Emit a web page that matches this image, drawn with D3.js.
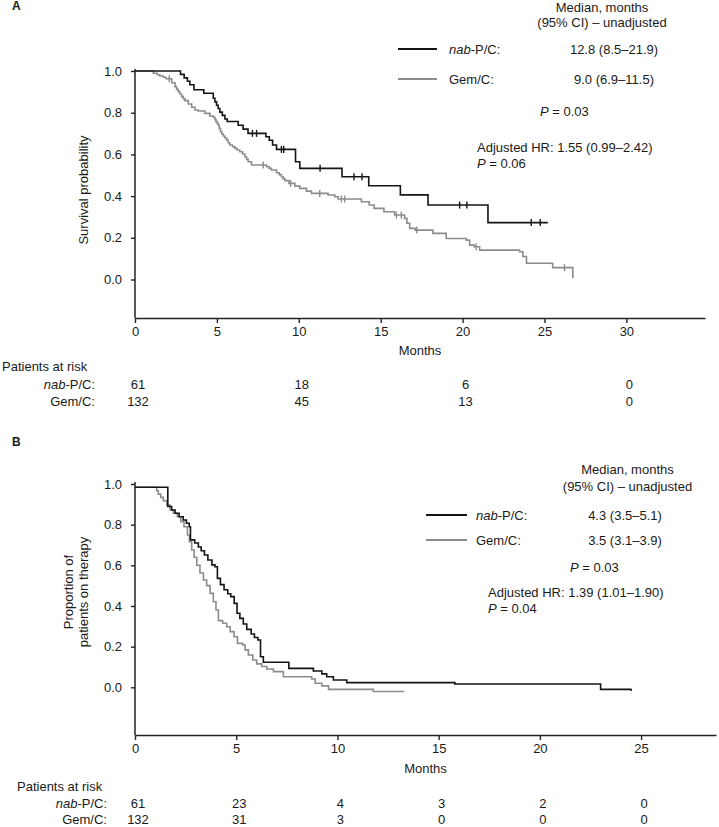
<!DOCTYPE html>
<html><head><meta charset="utf-8">
<script src="https://cdn.jsdelivr.net/npm/d3@7"></script>
<style>
body{margin:0;background:#fff;}
svg{display:block;font-family:"Liberation Sans",Arial,sans-serif;}
</style></head><body>
<svg id="c" width="719" height="827"></svg>
<script>
// ---------------- data ----------------
const probTicks = [0.0, 0.2, 0.4, 0.6, 0.8, 1.0];
const monthTicksA = [0, 5, 10, 15, 20, 25, 30];
const monthTicksB = [0, 5, 10, 15, 20, 25];

// Panel A: overall survival, [month, survival]
const osNab = [[0,1.0],[2.78,0.984],[3.0,0.967],[3.2,0.951],[3.35,0.934],[3.6,0.910],[4.2,0.893],
  [4.78,0.869],[4.88,0.852],[4.98,0.836],[5.08,0.820],[5.18,0.803],[5.33,0.787],[5.49,0.770],[5.63,0.758],
  [6.3,0.740],[6.6,0.721],[6.9,0.701],[7.99,0.685],[8.2,0.668],[8.4,0.645],[8.64,0.624],[9.8,0.565],
  [10.06,0.533],[12.64,0.493],[14.27,0.450],[16.2,0.406],[17.89,0.357],[21.55,0.273],[25.2,0.273]];
const osNabCensor = [7.17,7.42,8.94,9.08,11.3,13.37,13.86,19.82,20.26,24.19,24.74];

const osGem = [[0,1.0],[1.12,0.989],[1.36,0.982],[1.52,0.976],[1.73,0.970],[1.89,0.963],[2.24,0.944],
  [2.44,0.925],[2.54,0.912],[2.64,0.901],[2.74,0.890],[2.85,0.877],[2.95,0.867],[3.05,0.858],[3.25,0.842],
  [3.46,0.826],[3.66,0.813],[3.86,0.808],[4.27,0.797],[4.57,0.784],[4.78,0.778],[4.88,0.768],[4.94,0.757],
  [5.02,0.749],[5.08,0.741],[5.14,0.725],[5.22,0.709],[5.30,0.698],[5.39,0.688],[5.49,0.679],[5.59,0.669],
  [5.69,0.656],[5.79,0.645],[5.96,0.637],[6.10,0.629],[6.24,0.621],[6.40,0.613],[6.57,0.602],[6.71,0.589],
  [6.81,0.576],[6.91,0.565],[7.11,0.549],[8.03,0.541],[8.19,0.533],[8.33,0.525],[8.64,0.512],[8.80,0.503],
  [8.94,0.493],[9.04,0.484],[9.15,0.474],[9.40,0.461],[9.76,0.448],[10.06,0.437],[10.47,0.424],[10.77,0.413],
  [11.79,0.405],[12.20,0.397],[12.40,0.386],[13.82,0.373],[14.30,0.357],[14.60,0.341],[15.20,0.325],
  [15.85,0.309],[16.46,0.293],[16.60,0.270],[16.77,0.245],[17.10,0.237],[18.19,0.221],[19.00,0.197],
  [20.22,0.189],[20.43,0.165],[20.70,0.157],[21.04,0.141],[23.48,0.133],[23.68,0.110],[23.90,0.078],
  [25.50,0.057],[26.73,0.006]];
const osGemCensor = [2.09,7.83,9.5,11.28,12.6,12.8,15.96,16.26,17.2,20.83,26.22];

// Panel B: proportion on therapy, [month, proportion]
const totNab = [[0,0.984],[1.62,0.889],[1.81,0.872],[1.98,0.856],[2.18,0.839],[2.38,0.823],[2.54,0.807],
  [2.68,0.790],[2.74,0.725],[2.95,0.710],[3.13,0.690],[3.27,0.672],[3.43,0.651],[3.6,0.626],[3.8,0.602],
  [3.95,0.593],[4.07,0.536],[4.22,0.505],[4.4,0.480],[4.58,0.460],[4.73,0.446],[4.9,0.413],[5.04,0.364],
  [5.18,0.339],[5.35,0.311],[5.52,0.285],[5.74,0.262],[5.9,0.245],[6.07,0.233],[6.2,0.150],[6.34,0.123],
  [7.6,0.093],[8.81,0.080],[9.23,0.066],[9.47,0.052],[9.8,0.036],[10.46,0.023],[15.8,0.016],[23.0,-0.010],
  [24.5,-0.018]];
const totGem = [[0,0.984],[1.07,0.967],[1.15,0.950],[1.27,0.934],[1.4,0.918],[1.57,0.897],[1.73,0.872],
  [1.89,0.856],[2.09,0.839],[2.26,0.815],[2.42,0.790],[2.59,0.749],[2.69,0.716],[2.8,0.675],[2.92,0.640],
  [3.05,0.600],[3.21,0.562],[3.38,0.528],[3.54,0.500],[3.71,0.462],[3.87,0.421],[4.0,0.380],[4.12,0.328],
  [4.33,0.315],[4.53,0.298],[4.7,0.274],[4.89,0.249],[5.06,0.216],[5.32,0.208],[5.44,0.184],[5.6,0.159],
  [5.82,0.134],[6.01,0.115],[6.26,0.102],[6.51,0.090],[6.84,0.077],[7.33,0.052],[8.73,0.041],[8.9,0.020],
  [9.23,0.007],[9.56,-0.010],[11.77,-0.021],[13.3,-0.021]];

// Risk tables
const riskTimesA = [0, 10, 20, 30];
const riskNabA = [61, 18, 6, 0];
const riskGemA = [132, 45, 13, 0];
const riskTimesB = [0, 5, 10, 15, 20, 25];
const riskNabB = [61, 23, 4, 3, 2, 0];
const riskGemB = [132, 31, 3, 0, 0, 0];

// Legend values
const medianA = ["12.8 (8.5\u201321.9)", "9.0 (6.9\u201311.5)"];
const medianB = ["4.3 (3.5\u20135.1)", "3.5 (3.1\u20133.9)"];
const statsA = ["0.03", "1.55 (0.99\u20132.42)", "0.06"];
const statsB = ["0.03", "1.39 (1.01\u20131.90)", "0.04"];

// ---------------- drawing ----------------
const svg = d3.select("#c");
const FS = 13;
const TXT = "#1a1a1a";
const BLACK = "#141414", GRAY = "#8c8c8c";

function stepValue(data, t) {
  let v = data[0][1];
  for (const d of data) { if (d[0] <= t) v = d[1]; }
  return v;
}

function drawPanel(cfg) {
  const g = svg.append("g");
  const x = d3.scaleLinear().domain([0, cfg.xMax]).range([135, cfg.xEnd]);
  const y = d3.scaleLinear().domain([0, 1]).range([cfg.y0, cfg.y1]);

  // y axis
  const ya = d3.axisLeft(y).tickValues(probTicks).tickFormat(d3.format(".1f"))
      .tickSize(4).tickPadding(9);
  const yg = g.append("g").attr("transform", "translate(135,0)").call(ya);
  yg.select(".domain").remove();
  yg.selectAll(".tick line").attr("stroke", "#222").attr("stroke-width", 1.4);
  yg.selectAll(".tick text").attr("font-size", FS).attr("fill", TXT)
    .attr("font-family", "Liberation Sans, Arial, sans-serif");
  g.append("line").attr("x1", 135).attr("x2", 135).attr("y1", y(1) - 2).attr("y2", cfg.axisY)
    .attr("stroke", "#222").attr("stroke-width", 1.5);

  // x axis
  const xa = d3.axisBottom(x).tickValues(cfg.ticks).tickSize(5).tickSizeOuter(0).tickPadding(4);
  const xg = g.append("g").attr("transform", `translate(0,${cfg.axisY})`).call(xa);
  xg.select(".domain").attr("stroke", "#222").attr("stroke-width", 1.5);
  xg.selectAll(".tick line").attr("stroke", "#222").attr("stroke-width", 1.4);
  xg.selectAll(".tick text").attr("font-size", FS).attr("fill", TXT)
    .attr("font-family", "Liberation Sans, Arial, sans-serif");

  g.append("text").attr("x", (135 + cfg.xEnd) / 2).attr("y", cfg.monthsY)
    .attr("text-anchor", "middle").attr("font-size", FS).attr("fill", TXT).text("Months");

  // curves
  const line = d3.line().x(d => x(d[0])).y(d => y(d[1])).curve(d3.curveStepAfter);
  cfg.series.forEach(s => {
    g.append("path").attr("d", line(s.data)).attr("fill", "none")
      .attr("stroke", s.color).attr("stroke-width", 1.6);
    (s.censor || []).forEach(c => {
      const v = stepValue(s.data, c);
      g.append("line").attr("x1", x(c)).attr("x2", x(c))
        .attr("y1", y(v) - 3.5).attr("y2", y(v) + 3.5)
        .attr("stroke", s.color).attr("stroke-width", 1.4);
    });
  });

  // panel letter
  g.append("text").attr("x", 12).attr("y", cfg.letterY).attr("font-size", 12)
    .attr("font-weight", "bold").attr("fill", TXT).text(cfg.letter);

  // y title
  const yt = g.append("text").attr("transform", `translate(${cfg.ytX},${cfg.ytY}) rotate(-90)`)
    .attr("text-anchor", "middle").attr("font-size", FS).attr("fill", TXT);
  cfg.yTitle.forEach((t, i) => {
    yt.append("tspan").attr("x", 0).attr("dy", i === 0 ? (-(cfg.yTitle.length - 1) * 15) : 15).text(t);
  });

  // legend
  const L = cfg.legend;
  g.append("text").attr("x", L.hx).attr("y", L.h1).attr("text-anchor", "middle")
    .attr("font-size", FS).attr("fill", TXT).text("Median, months");
  g.append("text").attr("x", L.hx).attr("y", L.h2).attr("text-anchor", "middle")
    .attr("font-size", FS).attr("fill", TXT).text("(95% CI) \u2013 unadjusted");
  const rows = [{color: BLACK, y: L.r1, val: cfg.median[0], nab: true},
                {color: GRAY, y: L.r2, val: cfg.median[1], nab: false}];
  rows.forEach(r => {
    g.append("line").attr("x1", L.lx1).attr("x2", L.lx2).attr("y1", r.y).attr("y2", r.y)
      .attr("stroke", r.color).attr("stroke-width", 2);
    const t = g.append("text").attr("x", L.tx).attr("y", r.y + 4.5).attr("font-size", FS).attr("fill", TXT);
    if (r.nab) { t.append("tspan").attr("font-style", "italic").text("nab"); t.append("tspan").text("-P/C:"); }
    else t.text("Gem/C:");
    g.append("text").attr("x", L.vx).attr("y", r.y + 4.5).attr("text-anchor", "middle")
      .attr("font-size", FS).attr("fill", TXT).text(r.val);
  });
  const p1 = g.append("text").attr("x", L.px).attr("y", L.py).attr("font-size", FS).attr("fill", TXT);
  p1.append("tspan").attr("font-style", "italic").text("P");
  p1.append("tspan").text(" = " + cfg.stats[0]);
  g.append("text").attr("x", L.ax).attr("y", L.ay).attr("font-size", FS).attr("fill", TXT)
    .text("Adjusted HR: " + cfg.stats[1]);
  const p2 = g.append("text").attr("x", L.ax).attr("y", L.ay + 16).attr("font-size", FS).attr("fill", TXT);
  p2.append("tspan").attr("font-style", "italic").text("P");
  p2.append("tspan").text(" = " + cfg.stats[2]);

  // risk table
  const R = cfg.risk;
  g.append("text").attr("x", R.px).attr("y", R.y0).attr("font-size", FS).attr("fill", TXT).text("Patients at risk");
  const lab1 = g.append("text").attr("x", R.lx).attr("y", R.y1).attr("text-anchor", "end")
    .attr("font-size", FS).attr("fill", TXT);
  lab1.append("tspan").attr("font-style", "italic").text("nab");
  lab1.append("tspan").text("-P/C:");
  g.append("text").attr("x", R.lx).attr("y", R.y2).attr("text-anchor", "end")
    .attr("font-size", FS).attr("fill", TXT).text("Gem/C:");
  R.times.forEach((t, i) => {
    g.append("text").attr("x", x(t) + 3).attr("y", R.y1).attr("text-anchor", "middle")
      .attr("font-size", FS).attr("fill", TXT).text(R.nab[i]);
    g.append("text").attr("x", x(t) + 3).attr("y", R.y2).attr("text-anchor", "middle")
      .attr("font-size", FS).attr("fill", TXT).text(R.gem[i]);
  });
}

drawPanel({
  letter: "A", letterY: 10,
  xMax: 34.8, xEnd: 705, y0: 279.5, y1: 71, axisY: 318, ticks: monthTicksA, monthsY: 355,
  series: [{data: osGem, color: GRAY, censor: osGemCensor}, {data: osNab, color: BLACK, censor: osNabCensor}],
  yTitle: ["Survival probability"], ytX: 88, ytY: 190,
  median: medianA, stats: statsA,
  legend: {hx: 602, h1: 12, h2: 27, lx1: 398, lx2: 437, tx: 449, vx: 614, r1: 49, r2: 79,
           px: 540, py: 116, ax: 477, ay: 152},
  risk: {px: 2, lx: 95, y0: 371, y1: 389, y2: 406, times: riskTimesA, nab: riskNabA, gem: riskGemA}
});

drawPanel({
  letter: "B", letterY: 446,
  xMax: 28.7, xEnd: 716, y0: 687.3, y1: 484, axisY: 735, ticks: monthTicksB, monthsY: 773,
  series: [{data: totGem, color: GRAY}, {data: totNab, color: BLACK}],
  yTitle: ["Proportion of", "patients on therapy"], ytX: 88, ytY: 592,
  median: medianB, stats: statsB,
  legend: {hx: 627.5, h1: 474, h2: 491, lx1: 426, lx2: 467, tx: 476, vx: 625, r1: 515, r2: 540,
           px: 570, py: 572, ax: 488, ay: 597},
  risk: {px: 17, lx: 107, y0: 791, y1: 808, y2: 824, times: riskTimesB, nab: riskNabB, gem: riskGemB}
});
</script>
</body></html>
